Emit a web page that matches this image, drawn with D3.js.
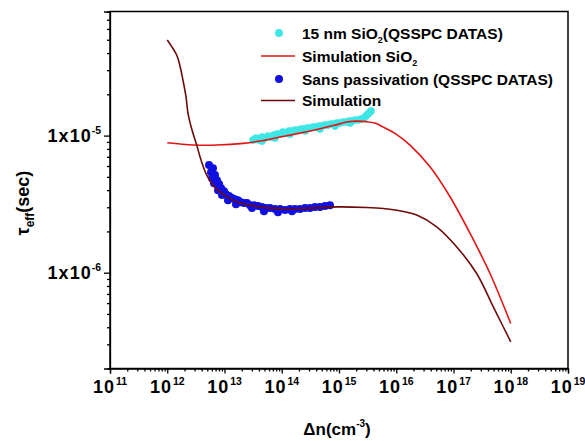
<!DOCTYPE html>
<html>
<head>
    <meta charset="utf-8">
    <title>tau eff vs delta n</title>
    <script src="https://d3js.org/d3.v7.min.js"></script>
    <style>
        body { margin: 0; background: #fff; }
        svg text { font-family: "Liberation Sans", Arial, sans-serif; font-weight: bold; fill: #000; }
        .axis path, .axis line { stroke: #000; stroke-width: 1.3; }
    </style>
</head>
<body>
<script>
// ---- data ----
var xTicks = [1e11, 1e12, 1e13, 1e14, 1e15, 1e16, 1e17, 1e18, 1e19];
var xTickExp = ["11", "12", "13", "14", "15", "16", "17", "18", "19"];
var yTicks = [1e-6, 1e-5];
var yTickExp = ["-6", "-5"];

// 15 nm SiO2 (QSSPC)
var sio2DataX = [3.15e13, 3.55e13, 4.01e13, 4.52e13, 5.10e13, 5.75e13, 6.49e13, 7.32e13, 8.26e13, 9.31e13,
    1.05e14, 1.19e14, 1.34e14, 1.51e14, 1.70e14, 1.92e14, 2.17e14, 2.45e14, 2.76e14, 3.11e14,
    3.51e14, 3.96e14, 4.47e14, 5.05e14, 5.69e14, 6.42e14, 7.25e14, 8.18e14, 9.23e14, 1.04e15,
    1.17e15, 1.32e15, 1.50e15, 1.69e15, 1.90e15, 2.15e15, 2.42e15, 2.73e15, 2.96e15, 3.21e15,
    3.48e15, 3.62e15, 4.52e13, 7.62e13, 1.39e14, 2.55e14, 4.66e14, 8.51e14, 1.56e15];
var sio2DataY = [9.27e-6, 9.59e-6, 9.27e-6, 9.75e-6, 9.59e-6, 9.92e-6, 9.75e-6, 1.008e-5, 1.025e-5, 1.025e-5,
    1.061e-5, 1.043e-5, 1.079e-5, 1.079e-5, 1.097e-5, 1.097e-5, 1.115e-5, 1.115e-5, 1.134e-5, 1.134e-5,
    1.153e-5, 1.153e-5, 1.173e-5, 1.173e-5, 1.193e-5, 1.193e-5, 1.213e-5, 1.213e-5, 1.234e-5, 1.234e-5,
    1.255e-5, 1.255e-5, 1.276e-5, 1.276e-5, 1.298e-5, 1.298e-5, 1.319e-5, 1.342e-5, 1.388e-5, 1.435e-5,
    1.484e-5, 1.510e-5, 9.12e-6, 9.59e-6, 1.025e-5, 1.079e-5, 1.115e-5, 1.173e-5, 1.234e-5];

// Simulation SiO2
var simSio2X = [1e12, 2.85e12, 7.31e12, 2.13e13, 4.17e13, 9.70e13, 2.08e14, 3.77e14, 7.85e14, 1.44e15,
    2.04e15, 2.96e15, 4.21e15, 5.94e15, 1.02e16, 1.74e16, 3.89e16, 8.69e16, 1.94e17, 4.34e17, 1e18];
var simSio2Y = [8.86e-6, 8.53e-6, 8.53e-6, 8.77e-6, 9.12e-6, 9.80e-6, 1.043e-5, 1.097e-5, 1.183e-5, 1.261e-5,
    1.276e-5, 1.265e-5, 1.234e-5, 1.153e-5, 1.017e-5, 8.53e-6, 5.92e-6, 3.58e-6, 1.94e-6, 9.87e-7, 4.26e-7];

// Sans passivation (QSSPC)
var bareDataX = [5.36e12, 6.30e12, 5.81e12, 6.82e12, 6.05e12, 7.39e12, 6.56e12, 8.02e12, 8.69e12, 7.70e12,
    9.80e12, 1.06e13, 9.04e12, 1.20e13, 1.35e13, 1.52e13, 1.72e13, 1.94e13, 2.19e13, 2.47e13,
    2.79e13, 3.27e13, 3.85e13, 4.52e13, 5.31e13, 6.24e13, 7.62e13, 9.31e13, 1.14e14, 1.39e14,
    1.70e14, 2.08e14, 2.55e14, 3.11e14, 3.81e14, 4.66e14, 5.69e14, 6.96e14, 1.15e13, 1.59e13,
    3.02e13, 4.90e13, 8.59e13, 1.51e14];
var bareDataY = [6.09e-6, 5.79e-6, 5.41e-6, 5.15e-6, 4.89e-6, 4.73e-6, 4.50e-6, 4.43e-6, 4.14e-6, 4.00e-6,
    3.93e-6, 3.74e-6, 3.68e-6, 3.62e-6, 3.50e-6, 3.44e-6, 3.38e-6, 3.27e-6, 3.22e-6, 3.22e-6,
    3.11e-6, 3.11e-6, 3.06e-6, 3.01e-6, 2.96e-6, 2.96e-6, 2.91e-6, 2.91e-6, 2.86e-6, 2.91e-6,
    2.91e-6, 2.91e-6, 2.96e-6, 2.96e-6, 3.01e-6, 3.01e-6, 3.06e-6, 3.11e-6, 3.38e-6, 3.16e-6,
    2.96e-6, 2.81e-6, 2.76e-6, 2.81e-6];

// Simulation (no passivation)
var simBareX = [1e12, 1.46e12, 1.67e12, 1.88e12, 2.13e12, 2.30e12, 2.71e12, 3.27e12, 3.89e12,
    4.89e12, 6.30e12, 8.34e12, 1.25e13, 1.87e13, 3.41e13, 5.52e13, 1.14e14, 2.08e14, 4.66e14,
    9.23e14, 3.05e15, 5.94e15, 1.09e16, 2.28e16, 5.09e16, 1.14e17, 2.54e17, 4.96e17, 1e18];
var simBareY = [4.98e-5, 3.87e-5, 3.22e-5, 2.54e-5, 1.91e-5, 1.46e-5, 1.097e-5, 8.53e-6, 6.63e-6,
    5.15e-6, 4.35e-6, 3.89e-6, 3.47e-6, 3.22e-6, 3.06e-6, 2.97e-6, 2.93e-6, 2.94e-6, 2.98e-6,
    3.02e-6, 2.99e-6, 2.94e-6, 2.84e-6, 2.63e-6, 2.16e-6, 1.54e-6, 9.87e-7, 5.63e-7, 3.13e-7];

var legendNames = ["15 nm SiO", "Simulation SiO", "Sans passivation (QSSPC DATAS)", "Simulation"];

// ---- layout ----
var W = 585, H = 441;
var margin = {top: 11.5, right: 17, bottom: 72.5, left: 110};
var width = W - margin.left - margin.right,
    height = H - margin.top - margin.bottom;

var svg = d3.select("body").append("svg")
    .attr("width", W)
    .attr("height", H);
var g = svg.append("g")
    .attr("transform", "translate(" + margin.left + "," + margin.top + ")");

var x = d3.scaleLog().domain([1e11, 1e19]).range([0, width]);
var y = d3.scaleLog().domain([2e-7, 8.04e-5]).range([height, 0]);

// minor ticks
var xMinor = [];
for (var e = 11; e < 19; e++) for (var m = 2; m <= 9; m++) xMinor.push(m * Math.pow(10, e));
var yMinor = [];
for (var e2 = -7; e2 <= -5; e2++) for (var m2 = 2; m2 <= 9; m2++) {
    var v = m2 * Math.pow(10, e2);
    if (v >= 2e-7 && v <= 8.04e-5) yMinor.push(v);
}

// axes
g.append("g").attr("class", "axis")
    .attr("transform", "translate(0," + height + ")")
    .call(d3.axisBottom(x).tickValues(xTicks).tickSize(5).tickFormat(""));
g.append("g").attr("class", "axis")
    .attr("transform", "translate(0," + height + ")")
    .call(d3.axisBottom(x).tickValues(xMinor).tickSize(3).tickFormat(""))
    .select(".domain").remove();
g.append("g").attr("class", "axis")
    .call(d3.axisLeft(y).tickValues(yTicks).tickSize(6).tickFormat(""));
g.append("g").attr("class", "axis")
    .call(d3.axisLeft(y).tickValues(yMinor).tickSize(3).tickFormat(""))
    .select(".domain").remove();

// frame
g.append("rect")
    .attr("width", width).attr("height", height)
    .attr("fill", "none").attr("stroke", "#000").attr("stroke-width", 1.5);

// x tick labels 10^n
xTicks.forEach(function(t, i) {
    var tx = g.append("text")
        .attr("x", x(t)).attr("y", height + 24)
        .attr("text-anchor", "middle")
        .style("font-size", "18px")
        .style("letter-spacing", "1px");
    tx.append("tspan").text("10");
    tx.append("tspan").attr("dx", 1).attr("dy", -8).style("font-size", "10.5px")
        .style("letter-spacing", "0px").text(xTickExp[i]);
});

// y tick labels 1x10^n
yTicks.forEach(function(t, i) {
    var ty = g.append("text")
        .attr("x", -9).attr("y", y(t) + 6.5)
        .attr("text-anchor", "end")
        .style("font-size", "18px")
        .style("letter-spacing", "1px");
    ty.append("tspan").text("1x10");
    ty.append("tspan").attr("dy", -8).style("font-size", "10.5px")
        .style("letter-spacing", "0px").text(yTickExp[i]);
});

// axis titles
var xt = svg.append("text")
    .attr("x", 337).attr("y", 435)
    .attr("text-anchor", "middle")
    .style("font-size", "17px");
xt.append("tspan").text("\u0394n(cm");
xt.append("tspan").attr("dy", -8).style("font-size", "10px").text("-3");
xt.append("tspan").attr("dy", 8).text(")");

var yt = svg.append("text")
    .attr("transform", "translate(29,203) rotate(-90)")
    .attr("text-anchor", "middle")
    .style("font-size", "18px");
yt.append("tspan").text("\u03c4");
yt.append("tspan").attr("dy", 5).style("font-size", "12px").text("eff");
yt.append("tspan").attr("dy", -5).text("(sec)");

// data points
g.append("g")
    .selectAll("circle")
    .data(sio2DataX)
    .enter()
    .append("circle")
      .attr("cx", function(d) { return x(d); })
      .attr("cy", function(d, i) { return y(sio2DataY[i]); })
      .attr("r", 3.8)
      .style("fill", "#3fe6e6");

g.append("g")
    .selectAll("circle")
    .data(bareDataX)
    .enter()
    .append("circle")
      .attr("cx", function(d) { return x(d); })
      .attr("cy", function(d, i) { return y(bareDataY[i]); })
      .attr("r", 4)
      .style("fill", "#1010e0");

// simulation lines
var line = d3.line()
    .x(function(d) { return x(d[0]); })
    .y(function(d) { return y(d[1]); })
    .curve(d3.curveCatmullRom.alpha(0.5));

g.append("path")
    .datum(d3.zip(simSio2X, simSio2Y))
    .attr("d", line)
    .attr("fill", "none")
    .attr("stroke", "#e41414")
    .attr("stroke-width", 1.6);

g.append("path")
    .datum(d3.zip(simBareX, simBareY))
    .attr("d", line)
    .attr("fill", "none")
    .attr("stroke", "#6e0a0a")
    .attr("stroke-width", 1.6);

// legend
var legY = [33, 56, 79, 100.5];
var lg = svg.append("g");
lg.append("circle").attr("cx", 279).attr("cy", legY[0]).attr("r", 4).style("fill", "#3fe6e6");
lg.append("line").attr("x1", 261).attr("x2", 295).attr("y1", legY[1]).attr("y2", legY[1])
    .attr("stroke", "#e41414").attr("stroke-width", 1.6);
lg.append("circle").attr("cx", 279).attr("cy", legY[2]).attr("r", 4).style("fill", "#1010e0");
lg.append("line").attr("x1", 261).attr("x2", 295).attr("y1", legY[3]).attr("y2", legY[3])
    .attr("stroke", "#6e0a0a").attr("stroke-width", 1.6);

var t1 = lg.append("text").attr("x", 302).attr("y", legY[0] + 5.5).style("font-size", "15.5px");
t1.append("tspan").text(legendNames[0]);
t1.append("tspan").attr("dy", 4).style("font-size", "9px").text("2");
t1.append("tspan").attr("dy", -4).text("(QSSPC DATAS)");

var t2 = lg.append("text").attr("x", 302).attr("y", legY[1] + 5.5).style("font-size", "15.5px");
t2.append("tspan").text(legendNames[1]);
t2.append("tspan").attr("dy", 4).style("font-size", "9px").text("2");

lg.append("text").attr("x", 302).attr("y", legY[2] + 5.5).style("font-size", "15.5px").text(legendNames[2]);
lg.append("text").attr("x", 302).attr("y", legY[3] + 5.5).style("font-size", "15.5px").text(legendNames[3]);
</script>
</body>
</html>
